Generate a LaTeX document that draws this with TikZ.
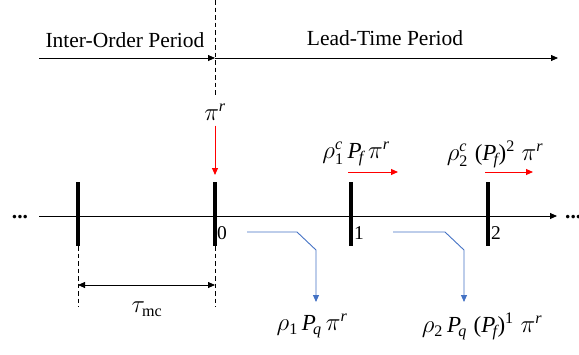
\documentclass[tikz,border=0pt]{standalone}
\usepackage{amsmath}
\usepackage{fontspec}
\setmainfont{Liberation Serif}
\usetikzlibrary{arrows.meta}
\definecolor{linkblue}{RGB}{68,114,196}
% Times-style symbols taken from the text font
\newcommand{\mi}[1]{\textit{#1}}
\newcommand{\mr}[1]{\textrm{#1}}

\begin{document}
\begin{tikzpicture}[x=1pt, y=-1pt, >={Triangle[length=7pt,width=6pt]},
    every node/.style={font=\fontsize{21.5}{24}\selectfont, inner sep=0pt},
    term/.style={font=\fontsize{23}{26}\selectfont},
    tick/.style={line width=3.2pt},
    guide/.style={dash pattern=on 4.5pt off 3pt, line width=0.6pt},
    redarrow/.style={->, red, line width=1pt},
    bluearrow/.style={->, linkblue, line width=0.9pt},
    ticklabel/.style={font=\fontsize{19.5}{22}\selectfont, anchor=west}]
    \useasboundingbox (0,0) rectangle (579,354);

    % periods
    \coordinate (per0) at (39,58);
    \coordinate (per1) at (215,58);
    \coordinate (per2) at (558,58);
    \draw[->, line width=0.8pt] (per0) -- (per1);
    \draw[->, line width=0.8pt] (per1) -- (per2);
    \node (inter) at (125,40) {Inter-Order Period};
    \node (lead) at (385,38) {Lead-Time Period};

    \coordinate (cut0) at (215,0);
    \coordinate (cut1) at (215,97);
    \draw[guide] (cut0) -- (cut1);

    % time axis
    \coordinate (axl) at (39,216);
    \coordinate (axr) at (557,216);
    \draw[->, line width=0.9pt] (axl) -- (axr);
    \node[anchor=base] (dotsl) at (20,218) {\textbf{...}};
    \node[anchor=base west] (dotsr) at (565,218) {\textbf{...}};

    \foreach \x/\n in {78/a,215/b,351/c,488/d} {
        \coordinate (\n-top) at (\x,182);
        \coordinate (\n-bot) at (\x,246);
        \draw[tick] (\n-top) -- (\n-bot);
    }
    \node[ticklabel] (lab0) at (217,233) {0};
    \node[ticklabel] (lab1) at (354,233) {1};
    \node[ticklabel] (lab2) at (491,233) {2};

    % cycle length
    \coordinate (dima) at (78,307);
    \coordinate (dimb) at (215,307);
    \draw[guide] (a-bot) -- (dima);
    \draw[guide] (b-bot) -- (dimb);
    \coordinate (spana) at (78,285);
    \coordinate (spanb) at (215,285);
    \draw[<->, line width=0.8pt] (spana) -- (spanb);
    \node[term] (tau) at (147,309) {$\tau_{\mr{mc}}$};

    % order at time 0
    \node[term] (pir) at (215,112) {$\pi^{\mi{r}}$};
    \coordinate (pirend) at (215,175);
    \draw[redarrow] ([yshift=-5pt]pir.south) -- (pirend);

    % forwarded terms
    \node[term] (fwd1) at (356,154) {$\rho_{\mr{1}}^{\mi{c}}\,\mi{P}_{\!\mi{f}}\,\pi^{\mi{r}}$};
    \node[term] (fwd2) at (495,154) {$\rho_{\mr{2}}^{\mi{c}}\;\mr{(}\mi{P}_{\!\mi{f}}\mr{)}^{\mr{2}}\;\pi^{\mi{r}}$};
    \coordinate (f1a) at (348,172);
    \coordinate (f1b) at (398,172);
    \coordinate (f2a) at (485,172);
    \coordinate (f2b) at (533,172);
    \draw[redarrow] (f1a) -- (f1b);
    \draw[redarrow] (f2a) -- (f2b);

    % received terms
    \node[term] (rec1) at (312,326) {$\rho_{\mr{1}}\,\mi{P}_{\!\mi{q}}\,\pi^{\mi{r}}$};
    \node[term] (rec2) at (482,326) {$\rho_{\mr{2}}\,\mi{P}_{\!\mi{q}}\;\mr{(}\mi{P}_{\!\mi{f}}\mr{)}^{\mr{1}}\;\pi^{\mi{r}}$};
    \coordinate (r1a) at (247,232);
    \coordinate (r1b) at (297,232);
    \coordinate (r1c) at (316,250);
    \coordinate (r1d) at (316,302);
    \coordinate (r2a) at (393,232);
    \coordinate (r2b) at (445,232);
    \coordinate (r2c) at (464,250);
    \coordinate (r2d) at (464,302);
    \draw[bluearrow] (r1a) -- (r1b) -- (r1c) -- (r1d);
    \draw[bluearrow] (r2a) -- (r2b) -- (r2c) -- (r2d);
\end{tikzpicture}
\end{document}
